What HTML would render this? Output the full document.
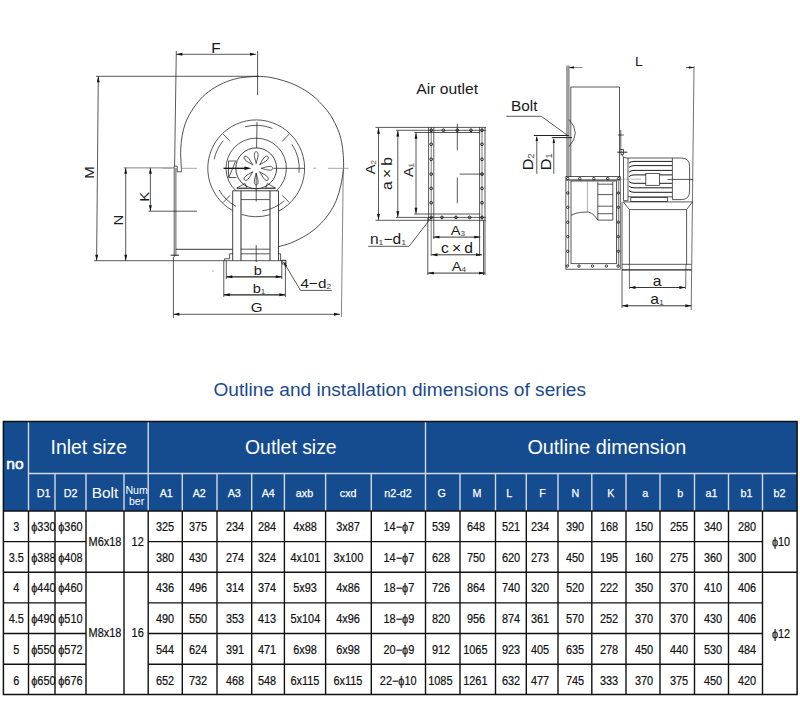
<!DOCTYPE html>
<html lang="en">
<head>
<meta charset="utf-8">
<title>Outline and installation dimensions of series</title>
<style>
html,body{margin:0;padding:0;background:#fff;}
body{width:800px;height:720px;position:relative;overflow:hidden;font-family:"Liberation Sans",sans-serif;}
#draw{position:absolute;left:0;top:0;width:800px;height:360px;}
#draw text{font-family:"Liberation Sans",sans-serif;fill:#1a1a1a;}
#grid{position:absolute;left:0;top:0;width:800px;height:720px;}
h1{position:absolute;left:213.5px;top:378px;margin:0;font-weight:normal;font-size:19.1px;line-height:24px;color:#1b4a8c;white-space:nowrap;transform-origin:0 50%;}
.c{position:absolute;display:flex;align-items:center;justify-content:center;white-space:nowrap;font-size:12px;color:#111;box-sizing:border-box;padding-top:1px;-webkit-text-stroke:0.2px #111;}
.c span{display:inline-block;transform:scaleX(.91);}
.h{color:#fff;font-size:11.8px;padding:2px 0 0 0;-webkit-text-stroke:0.25px #fff;}
.g{color:#fff;font-size:19px;padding:0 0 2px 0;-webkit-text-stroke:0;}
.g span{transform:none;}
</style>
</head>
<body>
<svg id="draw" width="800" height="360" viewBox="0 0 800 360">
<g fill="none" stroke="#222" stroke-width="0.75" stroke-linecap="butt">
<line x1="176.3" y1="51" x2="174.6" y2="166"/>
<line x1="257.6" y1="51" x2="257.6" y2="95.2"/>
<line x1="176.3" y1="54.3" x2="256" y2="54.3"/>
<path d="M176.3 54.3L182.3 52.85L182.3 55.75Z" fill="#111" stroke="none"/>
<path d="M256 54.3L250 55.75L250 52.85Z" fill="#111" stroke="none"/>
<line x1="96" y1="76.3" x2="259" y2="76.3"/>
<line x1="98.3" y1="76.3" x2="96.6" y2="260.7"/>
<path d="M98.3 76.3L99.69 82.31L96.79 82.29Z" fill="#111" stroke="none"/>
<path d="M96.6 260.7L95.21 254.69L98.11 254.71Z" fill="#111" stroke="none"/>
<line x1="94" y1="260.7" x2="286" y2="260.7"/>
<line x1="123.5" y1="167.9" x2="174" y2="167.9" stroke="#555"/>
<line x1="182" y1="168.3" x2="197" y2="168.3" stroke="#888"/>
<line x1="125.7" y1="167.8" x2="125.7" y2="260.7"/>
<path d="M125.7 167.8L127.15 173.8L124.25 173.8Z" fill="#111" stroke="none"/>
<path d="M125.7 260.7L124.25 254.7L127.15 254.7Z" fill="#111" stroke="none"/>
<line x1="150.4" y1="167.8" x2="150.4" y2="211.2"/>
<path d="M150.4 167.8L151.85 173.8L148.95 173.8Z" fill="#111" stroke="none"/>
<path d="M150.4 211.2L148.95 205.2L151.85 205.2Z" fill="#111" stroke="none"/>
<line x1="148.5" y1="211.2" x2="197" y2="211.2"/>
<path d="M174 166.2H177.2V171.8H181.5"/>
<line x1="174.2" y1="166.2" x2="174.2" y2="257"/>
<line x1="175.9" y1="168" x2="175.9" y2="256"/>
<line x1="170.7" y1="255.2" x2="179" y2="255.2" stroke-width="1"/>
<line x1="173.4" y1="257" x2="173.4" y2="318"/>
<line x1="175.9" y1="249.3" x2="232.6" y2="249.3" stroke-width="0.9"/>
<path d="M181.5 171.8C181.48 171.25 181.48 170.2 181.4 168.5C181.32 166.8 181.12 164.78 181 161.6C180.88 158.42 180.5 153.73 180.7 149.4C180.9 145.07 181.43 139.93 182.2 135.6C182.97 131.27 183.77 127.47 185.3 123.4C186.83 119.33 188.87 115.27 191.4 111.2C193.93 107.13 197.2 102.57 200.5 99C203.8 95.43 207.38 92.47 211.2 89.8C215.02 87.13 219.07 84.9 223.4 83C227.73 81.1 232.87 79.42 237.2 78.4C241.53 77.38 245.97 77.23 249.4 76.9C252.83 76.57 254.4 76.33 257.8 76.4C261.2 76.47 265.5 76.58 269.8 77.3C274.1 78.02 279.02 79.25 283.6 80.7C288.18 82.15 292.72 83.72 297.3 86C301.88 88.28 307.02 91.33 311.1 94.4C315.18 97.47 318.5 100.83 321.8 104.4C325.1 107.97 328.23 111.62 330.9 115.8C333.57 119.98 336.02 125.17 337.8 129.5C339.58 133.83 340.68 137.47 341.6 141.8C342.52 146.13 342.97 151.13 343.3 155.5C343.63 159.87 343.62 165.35 343.6 168C343.58 170.65 343.65 168.55 343.2 171.4C342.75 174.25 342.05 180.27 340.9 185.1C339.75 189.93 338.33 195.57 336.3 200.4C334.27 205.23 331.75 209.78 328.7 214.1C325.65 218.42 321.82 222.73 318 226.3C314.18 229.87 310.38 232.7 305.8 235.5C301.22 238.3 295.03 241.25 290.5 243.1C285.97 244.95 280.58 246.02 278.6 246.6" stroke-width="0.8"/>
<line x1="343.3" y1="168" x2="341.4" y2="317" stroke-width="0.65" stroke="#444"/>
<line x1="173.4" y1="314.3" x2="340" y2="314.3"/>
<path d="M173.4 314.3L179.4 312.85L179.4 315.75Z" fill="#111" stroke="none"/>
<path d="M340 314.3L334 315.75L334 312.85Z" fill="#111" stroke="none"/>
<path d="M232.44 210.47A48.4 48.4 0 1 1 279 210.99"/>
<path d="M270.03 214.68A48.4 48.4 0 0 1 241.57 214.43"/>
<path d="M235.95 190.71A30.2 30.2 0 1 1 276.45 190.71"/>
<circle cx="256.2" cy="168.3" r="20.4" stroke-width="0.85"/>
<path d="M245.07 126.77A43 43 0 0 1 272.31 128.43"/>
<path d="M291.85 144.25A43 43 0 0 1 298.96 172.79"/>
<path d="M284.41 200.75A43 43 0 0 1 262.18 210.88"/>
<path d="M236.01 206.27A43 43 0 0 1 218.96 189.8"/>
<path d="M214.14 159.36A43 43 0 0 1 223.26 140.66"/>
<line x1="230.15" y1="141.32" x2="223.2" y2="134.13"/>
<line x1="282.25" y1="141.32" x2="289.2" y2="134.13"/>
<line x1="282.25" y1="195.28" x2="289.2" y2="202.47"/>
<line x1="230.15" y1="195.28" x2="223.2" y2="202.47"/>
<line x1="257" y1="122" x2="256.6" y2="148"/>
<line x1="273.5" y1="168.3" x2="304.5" y2="168.3"/>
<line x1="313.4" y1="168.3" x2="316" y2="168.3" stroke="#888"/>
<line x1="328" y1="168.3" x2="348.5" y2="168.3" stroke="#888"/>
<line x1="163" y1="168.3" x2="172" y2="168.3" stroke="#999"/>
<path d="M4.8 0C8 -0.5 10.5 -2 14 -1.9C17.4 -1.8 17.4 1.8 14 1.9C10.5 2 8 0.5 4.8 0Z" transform="translate(256.2 168.3) rotate(-90)"/>
<path d="M4.8 0C8 -0.5 10.5 -2 14 -1.9C17.4 -1.8 17.4 1.8 14 1.9C10.5 2 8 0.5 4.8 0Z" transform="translate(256.2 168.3) rotate(-45)"/>
<path d="M4.8 0C8 -0.5 10.5 -2 14 -1.9C17.4 -1.8 17.4 1.8 14 1.9C10.5 2 8 0.5 4.8 0Z" transform="translate(256.2 168.3) rotate(0)"/>
<path d="M4.8 0C8 -0.5 10.5 -2 14 -1.9C17.4 -1.8 17.4 1.8 14 1.9C10.5 2 8 0.5 4.8 0Z" transform="translate(256.2 168.3) rotate(45)"/>
<path d="M4.8 0C8 -0.5 10.5 -2 14 -1.9C17.4 -1.8 17.4 1.8 14 1.9C10.5 2 8 0.5 4.8 0Z" transform="translate(256.2 168.3) rotate(90)"/>
<path d="M4.8 0C8 -0.5 10.5 -2 14 -1.9C17.4 -1.8 17.4 1.8 14 1.9C10.5 2 8 0.5 4.8 0Z" transform="translate(256.2 168.3) rotate(135)"/>
<path d="M4.8 0C8 -0.5 10.5 -2 14 -1.9C17.4 -1.8 17.4 1.8 14 1.9C10.5 2 8 0.5 4.8 0Z" transform="translate(256.2 168.3) rotate(225)"/>
<line x1="223.5" y1="168.3" x2="247" y2="168.3" stroke-width="1.3" stroke="#111"/>
<path d="M251.5 168.3L244.5 170.1L244.5 166.5Z" fill="#111" stroke="none"/>
<path d="M236.5 161H228.5V177.5H236.5M229 177L235.5 161.5"/>
<path d="M236.8 188L245 183.5L247 188Z M275.4 188L267.5 183.5L265.5 188Z"/>
<line x1="236.8" y1="188.6" x2="275.6" y2="188.6"/>
<path d="M232.7 260.7V190.8H278.5V260.7" stroke-width="0.85"/>
<line x1="241" y1="190.8" x2="241" y2="260.7" stroke-width="1.15" stroke="#444"/>
<line x1="270" y1="190.8" x2="270" y2="260.7" stroke-width="1.15" stroke="#444"/>
<line x1="241" y1="199.6" x2="269.8" y2="199.6"/>
<line x1="256.2" y1="173" x2="256.2" y2="201.5"/>
<line x1="256.2" y1="245" x2="256.2" y2="262"/>
<line x1="241" y1="249.2" x2="269.8" y2="249.2"/>
<path d="M229.6 253.8V258.8H224.6V260.7M229.6 253.8H232.7 M278.5 253.8H280.6V260.7"/>
<line x1="241" y1="253.8" x2="269.8" y2="253.8"/>
<rect x="282" y="260.2" width="4" height="3.8"/>
<line x1="226.3" y1="260.7" x2="226.3" y2="279"/>
<line x1="223.8" y1="260.7" x2="223.8" y2="297"/>
<line x1="281.8" y1="260.7" x2="281.8" y2="279"/>
<line x1="285.4" y1="262" x2="285.4" y2="297"/>
<line x1="226.3" y1="276.8" x2="281.8" y2="276.8" stroke-width="1.15"/>
<path d="M226.3 276.8L232.3 275.35L232.3 278.25Z" fill="#111" stroke="none"/>
<path d="M281.8 276.8L275.8 278.25L275.8 275.35Z" fill="#111" stroke="none"/>
<line x1="223.8" y1="294.8" x2="285.4" y2="294.8" stroke-width="1.15"/>
<path d="M223.8 294.8L229.8 293.35L229.8 296.25Z" fill="#111" stroke="none"/>
<path d="M285.4 294.8L279.4 296.25L279.4 293.35Z" fill="#111" stroke="none"/>
<circle cx="213" cy="271" r="0.4" stroke-width="0.6" stroke="#777"/>
<path d="M283.6 262L300.5 290.4H331.8"/>
<path d="M283.6 262L287.23 265.64L285.18 266.89Z" fill="#111" stroke="none"/>
</g>
<text font-size="13.8" text-anchor="middle" transform="translate(216 52.5) scale(1.12 1)">F</text>
<text font-size="13.4" text-anchor="middle" transform="translate(94 172.5) rotate(-90) scale(1.12 1)">M</text>
<text font-size="13.4" text-anchor="middle" transform="translate(123.4 220.2) rotate(-90) scale(1.12 1)">N</text>
<text font-size="13.4" text-anchor="middle" transform="translate(148.8 196.8) rotate(-90) scale(1.12 1)">K</text>
<text font-size="13.5" text-anchor="middle" transform="translate(256.6 311.5) scale(1.12 1)">G</text>
<text font-size="13" text-anchor="middle" transform="translate(257.8 275) scale(1.12 1)">b</text>
<text font-size="13" text-anchor="middle" transform="translate(259 292.8) scale(1.12 1)">b<tspan font-size="56%" dy="1" fill="#444">1</tspan></text>
<text font-size="13.6" text-anchor="start" transform="translate(300.6 288.4) scale(1.12 1)">4−d<tspan font-size="56%" dy="1" fill="#444">2</tspan></text>
<g fill="none" stroke="#222" stroke-width="0.75">
<line x1="375.5" y1="127.4" x2="486" y2="127.4"/>
<line x1="396" y1="130.3" x2="486" y2="130.3"/>
<line x1="414.3" y1="132.5" x2="480.3" y2="132.5"/>
<line x1="414.3" y1="214" x2="480.3" y2="214"/>
<line x1="396" y1="217.4" x2="486" y2="217.4"/>
<line x1="375.5" y1="220.3" x2="486" y2="220.3"/>
<line x1="428.6" y1="127.4" x2="428.6" y2="220.3"/>
<line x1="431.2" y1="127.4" x2="431.2" y2="256" stroke-width="0.6"/>
<line x1="433.8" y1="127.4" x2="433.8" y2="239"/>
<line x1="479.6" y1="127.4" x2="479.6" y2="256"/>
<line x1="482" y1="127.4" x2="482" y2="220.3" stroke-width="0.6"/>
<line x1="485" y1="127.4" x2="485" y2="275"/>
<line x1="427.8" y1="218" x2="427.8" y2="275"/>
<line x1="483.5" y1="220.3" x2="483.5" y2="275"/>
<line x1="378.5" y1="127.8" x2="378.5" y2="220"/>
<path d="M378.5 127.8L379.95 133.8L377.05 133.8Z" fill="#111" stroke="none"/>
<path d="M378.5 220L377.05 214L379.95 214Z" fill="#111" stroke="none"/>
<line x1="397.8" y1="130.5" x2="397.8" y2="217.2"/>
<path d="M397.8 130.5L399.25 136.5L396.35 136.5Z" fill="#111" stroke="none"/>
<path d="M397.8 217.2L396.35 211.2L399.25 211.2Z" fill="#111" stroke="none"/>
<line x1="416" y1="132.8" x2="416" y2="213.8"/>
<path d="M416 132.8L417.45 138.8L414.55 138.8Z" fill="#111" stroke="none"/>
<path d="M416 213.8L414.55 207.8L417.45 207.8Z" fill="#111" stroke="none"/>
<line x1="433.4" y1="237.1" x2="480.3" y2="237.1" stroke-width="0.9"/>
<path d="M433.4 237.1L439.4 235.65L439.4 238.55Z" fill="#111" stroke="none"/>
<path d="M480.3 237.1L474.3 238.55L474.3 235.65Z" fill="#111" stroke="none"/>
<line x1="431.5" y1="254.8" x2="482" y2="254.8" stroke-width="0.9"/>
<path d="M431.5 254.8L437.5 253.35L437.5 256.25Z" fill="#111" stroke="none"/>
<path d="M482 254.8L476 256.25L476 253.35Z" fill="#111" stroke="none"/>
<line x1="427.8" y1="273.1" x2="485" y2="273.1" stroke-width="0.9"/>
<path d="M427.8 273.1L433.8 271.65L433.8 274.55Z" fill="#111" stroke="none"/>
<path d="M485 273.1L479 274.55L479 271.65Z" fill="#111" stroke="none"/>
<circle cx="431.2" cy="130.3" r="1.35" stroke-width="1"/>
<circle cx="482" cy="130.3" r="1.35" stroke-width="1"/>
<circle cx="431.2" cy="144.3" r="1.35" stroke-width="1"/>
<circle cx="482" cy="144.3" r="1.35" stroke-width="1"/>
<circle cx="431.2" cy="159.3" r="1.35" stroke-width="1"/>
<circle cx="482" cy="159.3" r="1.35" stroke-width="1"/>
<circle cx="431.2" cy="174.1" r="1.35" stroke-width="1"/>
<circle cx="482" cy="174.1" r="1.35" stroke-width="1"/>
<circle cx="431.2" cy="188.4" r="1.35" stroke-width="1"/>
<circle cx="482" cy="188.4" r="1.35" stroke-width="1"/>
<circle cx="431.2" cy="202.8" r="1.35" stroke-width="1"/>
<circle cx="482" cy="202.8" r="1.35" stroke-width="1"/>
<circle cx="431.2" cy="217.4" r="1.35" stroke-width="1"/>
<circle cx="482" cy="217.4" r="1.35" stroke-width="1"/>
<circle cx="443.4" cy="130.3" r="1.35" stroke-width="1"/>
<circle cx="457.3" cy="130.3" r="1.35" stroke-width="1"/>
<circle cx="471" cy="130.3" r="1.35" stroke-width="1"/>
<circle cx="442" cy="217.4" r="1.35" stroke-width="1"/>
<circle cx="456" cy="217.4" r="1.35" stroke-width="1"/>
<circle cx="469.6" cy="217.4" r="1.35" stroke-width="1"/>
<line x1="457.3" y1="124" x2="457.3" y2="150.3"/>
<line x1="457.3" y1="177.5" x2="457.3" y2="203.2"/>
<line x1="459.7" y1="174.1" x2="484" y2="174.1"/>
<path d="M431.5 217.4L409 246.3H368.2"/>
</g>
<text font-size="13" text-anchor="middle" transform="translate(375 167.2) rotate(-90) scale(1.12 1)">A<tspan font-size="56%" dy="1" fill="#444">2</tspan></text>
<text font-size="14" text-anchor="middle" transform="translate(392 173.5) rotate(-90) scale(1.12 1)">a × b</text>
<text font-size="13" text-anchor="middle" transform="translate(412.5 170) rotate(-90) scale(1.12 1)">A<tspan font-size="56%" dy="1" fill="#444">1</tspan></text>
<text font-size="13" text-anchor="middle" transform="translate(457.8 235) scale(1.12 1)">A<tspan font-size="56%" dy="1" fill="#444">3</tspan></text>
<text font-size="14" text-anchor="middle" transform="translate(457 252.8) scale(1.12 1)">c × d</text>
<text font-size="13" text-anchor="middle" transform="translate(458.8 271.2) scale(1.12 1)">A<tspan font-size="56%" dy="1" fill="#444">4</tspan></text>
<text font-size="14.4" text-anchor="middle" transform="translate(388 244) scale(1.08 1)">n<tspan font-size="56%" dy="1" fill="#444">1</tspan><tspan dy="-1">−d</tspan><tspan font-size="56%" dy="1" fill="#444">1</tspan></text>
<text font-size="14" text-anchor="middle" transform="translate(447.2 94.4) scale(1.12 1)" fill="#2a2a2a">Air outlet</text>
<g fill="none" stroke="#222" stroke-width="0.75">
<line x1="567" y1="65.5" x2="567" y2="176.5" stroke-width="0.85"/>
<line x1="568.9" y1="65.5" x2="568.9" y2="177"/>
<line x1="694" y1="66" x2="691.2" y2="310" stroke-width="0.65"/>
<line x1="568.9" y1="67.5" x2="582.5" y2="67.5" stroke="#666"/>
<line x1="686" y1="67.5" x2="693.8" y2="67.5"/>
<path d="M568.9 67.5L573.9 66.3L573.9 68.7Z" fill="#111" stroke="none"/>
<path d="M693.8 67.5L688.8 68.7L688.8 66.3Z" fill="#111" stroke="none"/>
<path d="M570.8 177V87H619.5V177"/>
<path d="M569 119.5Q581.5 133 569 146.5"/>
<path d="M506.3 116.3H541.3L567 135"/>
<line x1="533.8" y1="135.5" x2="569" y2="135.5" stroke-width="1"/>
<line x1="551.8" y1="137.6" x2="572" y2="137.6" stroke-width="1"/>
<line x1="536.8" y1="173.8" x2="536.8" y2="137"/>
<path d="M536.8 136L538 141L535.6 141Z" fill="#111" stroke="none"/>
<line x1="553.8" y1="173.8" x2="553.8" y2="139"/>
<path d="M553.8 138L555 143L552.6 143Z" fill="#111" stroke="none"/>
<line x1="620.8" y1="130" x2="620.8" y2="150"/>
<line x1="617.8" y1="135" x2="623.8" y2="135"/>
<rect x="621" y="149.6" width="2.5" height="5"/>
<line x1="617.3" y1="152.2" x2="627.4" y2="152.2" stroke-width="1"/>
<path d="M623.5 157V200.7H628V158"/>
<path d="M621.8 154.6Q622.5 158 628 158H681.3Q689.6 158 689.6 166.5V191Q689.6 199.6 681.3 199.6H672.4"/>
<line x1="672.4" y1="158" x2="672.4" y2="199.6"/>
<line x1="628" y1="196.8" x2="672.4" y2="196.8"/>
<path d="M672 161.4H634Q630.5 161.4 629 163.2" stroke-width="0.95" stroke="#111"/>
<path d="M672 165.6H634Q630.5 165.6 629 167.4" stroke-width="0.95" stroke="#111"/>
<path d="M672 170.4H634Q630.5 170.4 629 172.2" stroke-width="0.95" stroke="#111"/>
<path d="M672 174.9H634Q630.5 174.9 629 176.7" stroke-width="0.95" stroke="#111"/>
<path d="M672 183.3H634Q630.5 183.3 629 181.5" stroke-width="0.95" stroke="#111"/>
<path d="M672 187.8H634Q630.5 187.8 629 186" stroke-width="0.95" stroke="#111"/>
<path d="M672 192.3H634Q630.5 192.3 629 190.5" stroke-width="0.95" stroke="#111"/>
<rect x="645.8" y="173.4" width="13.7" height="11.9" fill="#fff"/>
<line x1="667.4" y1="179.4" x2="693.2" y2="179.4"/>
<line x1="621" y1="179.2" x2="641" y2="179.2" stroke-width="0.6" stroke="#888"/>
<rect x="630.8" y="197.4" width="36.6" height="4.2"/>
<path d="M623.3 201.9H692.5L686.6 209.6V264.3 M623.3 201.9L629.4 209.6V264.3"/>
<line x1="629.4" y1="209.6" x2="686.6" y2="209.6"/>
<line x1="622" y1="201.9" x2="622" y2="308"/>
<line x1="622" y1="264.3" x2="691.6" y2="264.3"/>
<line x1="622" y1="269.8" x2="691.6" y2="269.8" stroke-width="1.2"/>
<line x1="629.4" y1="264.3" x2="629.4" y2="289" stroke-width="0.65"/>
<line x1="686" y1="264.3" x2="685.6" y2="289" stroke-width="0.65"/>
<line x1="629.5" y1="287.5" x2="685.4" y2="287.5" stroke-width="0.9"/>
<path d="M629.5 287.5L635.5 286.05L635.5 288.95Z" fill="#111" stroke="none"/>
<path d="M685.4 287.5L679.4 288.95L679.4 286.05Z" fill="#111" stroke="none"/>
<line x1="622" y1="305.8" x2="691.3" y2="305.8" stroke-width="0.9"/>
<path d="M622 305.8L628 304.35L628 307.25Z" fill="#111" stroke="none"/>
<path d="M691.3 305.8L685.3 307.25L685.3 304.35Z" fill="#111" stroke="none"/>
<rect x="565.9" y="176.5" width="54.3" height="92.7"/>
<rect x="571" y="181" width="45.5" height="82.7"/>
<line x1="565.9" y1="180" x2="620.2" y2="180" stroke-width="1.2"/>
<line x1="568.6" y1="181" x2="568.6" y2="266" stroke-width="0.6"/>
<line x1="618.4" y1="181" x2="618.4" y2="266" stroke-width="0.6"/>
<circle cx="567.8" cy="178.6" r="1.2" stroke-width="0.9"/>
<circle cx="579.8" cy="178.6" r="1.2" stroke-width="0.9"/>
<circle cx="593.8" cy="178.6" r="1.2" stroke-width="0.9"/>
<circle cx="607.7" cy="178.6" r="1.2" stroke-width="0.9"/>
<circle cx="618.4" cy="178.6" r="1.2" stroke-width="0.9"/>
<circle cx="567.2" cy="266.1" r="1.2" stroke-width="0.9"/>
<circle cx="579" cy="266.1" r="1.2" stroke-width="0.9"/>
<circle cx="592.5" cy="266.1" r="1.2" stroke-width="0.9"/>
<circle cx="606.4" cy="266.1" r="1.2" stroke-width="0.9"/>
<circle cx="618.1" cy="266.1" r="1.2" stroke-width="0.9"/>
<circle cx="567.8" cy="193" r="1.2" stroke-width="0.9"/>
<circle cx="618.4" cy="193" r="1.2" stroke-width="0.9"/>
<circle cx="567.8" cy="207.3" r="1.2" stroke-width="0.9"/>
<circle cx="618.4" cy="207.3" r="1.2" stroke-width="0.9"/>
<circle cx="567.8" cy="222.2" r="1.2" stroke-width="0.9"/>
<circle cx="618.4" cy="222.2" r="1.2" stroke-width="0.9"/>
<circle cx="567.8" cy="236.6" r="1.2" stroke-width="0.9"/>
<circle cx="618.4" cy="236.6" r="1.2" stroke-width="0.9"/>
<circle cx="567.8" cy="251.3" r="1.2" stroke-width="0.9"/>
<circle cx="618.4" cy="251.3" r="1.2" stroke-width="0.9"/>
<line x1="587.4" y1="181" x2="587.4" y2="212" stroke-width="0.6" stroke="#777"/>
<path d="M571 215.3Q576 212.8 580.6 212.4T588.5 212.1Q592 213 594.1 215.3T597.8 220.1"/>
<path d="M597.8 181.8V220.1H612.8V181.8"/>
<line x1="597.8" y1="184.2" x2="612.8" y2="184.2"/>
<line x1="597.8" y1="194.6" x2="612.8" y2="194.6"/>
<line x1="597.8" y1="206.2" x2="612.8" y2="206.2"/>
<line x1="597.8" y1="213.7" x2="612.8" y2="213.7"/>
</g>
<text font-size="12.5" text-anchor="middle" transform="translate(638.8 65.5) scale(1.12 1)" fill="#333">L</text>
<text font-size="14" text-anchor="start" transform="translate(511 110.8) scale(1.1 1)" fill="#333">Bolt</text>
<text font-size="14.6" text-anchor="middle" transform="translate(533.4 161.8) rotate(-90) scale(1.12 1)">D<tspan font-size="56%" dy="1" fill="#444">2</tspan></text>
<text font-size="14.6" text-anchor="middle" transform="translate(551 161.8) rotate(-90) scale(1.12 1)">D<tspan font-size="56%" dy="1" fill="#444">1</tspan></text>
<text font-size="14" text-anchor="middle" transform="translate(657 286) scale(1.12 1)">a</text>
<text font-size="14" text-anchor="middle" transform="translate(657 304.3) scale(1.12 1)">a<tspan font-size="56%" dy="1" fill="#444">1</tspan></text>
</svg>

<h1>Outline and installation dimensions of series</h1>
<svg id="grid" width="800" height="720" viewBox="0 0 800 720">
<rect x="3.4" y="421.5" width="793.7" height="89.5" fill="#154c90"/>
<line x1="28.5" y1="421.5" x2="28.5" y2="511" stroke="#d4d8e0" stroke-width="1.4"/>
<line x1="148.2" y1="421.5" x2="148.2" y2="511" stroke="#d4d8e0" stroke-width="1.4"/>
<line x1="425.5" y1="421.5" x2="425.5" y2="511" stroke="#d4d8e0" stroke-width="1.4"/>
<line x1="28.5" y1="473.5" x2="797.1" y2="473.5" stroke="#d4d8e0" stroke-width="1.4"/>
<line x1="55" y1="473.5" x2="55" y2="511" stroke="#d4d8e0" stroke-width="1.4"/>
<line x1="86" y1="473.5" x2="86" y2="511" stroke="#d4d8e0" stroke-width="1.4"/>
<line x1="124" y1="473.5" x2="124" y2="511" stroke="#d4d8e0" stroke-width="1.4"/>
<line x1="182.3" y1="473.5" x2="182.3" y2="511" stroke="#d4d8e0" stroke-width="1.4"/>
<line x1="217" y1="473.5" x2="217" y2="511" stroke="#d4d8e0" stroke-width="1.4"/>
<line x1="251.7" y1="473.5" x2="251.7" y2="511" stroke="#d4d8e0" stroke-width="1.4"/>
<line x1="284.4" y1="473.5" x2="284.4" y2="511" stroke="#d4d8e0" stroke-width="1.4"/>
<line x1="325.6" y1="473.5" x2="325.6" y2="511" stroke="#d4d8e0" stroke-width="1.4"/>
<line x1="371.3" y1="473.5" x2="371.3" y2="511" stroke="#d4d8e0" stroke-width="1.4"/>
<line x1="460" y1="473.5" x2="460" y2="511" stroke="#d4d8e0" stroke-width="1.4"/>
<line x1="495.5" y1="473.5" x2="495.5" y2="511" stroke="#d4d8e0" stroke-width="1.4"/>
<line x1="526.3" y1="473.5" x2="526.3" y2="511" stroke="#d4d8e0" stroke-width="1.4"/>
<line x1="558" y1="473.5" x2="558" y2="511" stroke="#d4d8e0" stroke-width="1.4"/>
<line x1="591.8" y1="473.5" x2="591.8" y2="511" stroke="#d4d8e0" stroke-width="1.4"/>
<line x1="626" y1="473.5" x2="626" y2="511" stroke="#d4d8e0" stroke-width="1.4"/>
<line x1="660" y1="473.5" x2="660" y2="511" stroke="#d4d8e0" stroke-width="1.4"/>
<line x1="694.5" y1="473.5" x2="694.5" y2="511" stroke="#d4d8e0" stroke-width="1.4"/>
<line x1="728.5" y1="473.5" x2="728.5" y2="511" stroke="#d4d8e0" stroke-width="1.4"/>
<line x1="762.5" y1="473.5" x2="762.5" y2="511" stroke="#d4d8e0" stroke-width="1.4"/>
<line x1="3.4" y1="541.6" x2="86" y2="541.6" stroke="#111" stroke-width="1.4"/>
<line x1="148.2" y1="541.6" x2="762.5" y2="541.6" stroke="#111" stroke-width="1.4"/>
<line x1="3.4" y1="572.2" x2="797.1" y2="572.2" stroke="#111" stroke-width="1.4"/>
<line x1="3.4" y1="602.9" x2="86" y2="602.9" stroke="#111" stroke-width="1.4"/>
<line x1="148.2" y1="602.9" x2="762.5" y2="602.9" stroke="#111" stroke-width="1.4"/>
<line x1="3.4" y1="633.5" x2="86" y2="633.5" stroke="#111" stroke-width="1.4"/>
<line x1="148.2" y1="633.5" x2="762.5" y2="633.5" stroke="#111" stroke-width="1.4"/>
<line x1="3.4" y1="664.2" x2="86" y2="664.2" stroke="#111" stroke-width="1.4"/>
<line x1="148.2" y1="664.2" x2="762.5" y2="664.2" stroke="#111" stroke-width="1.4"/>
<line x1="28.5" y1="511" x2="28.5" y2="694.5" stroke="#111" stroke-width="1.4"/>
<line x1="55" y1="511" x2="55" y2="694.5" stroke="#111" stroke-width="1.4"/>
<line x1="86" y1="511" x2="86" y2="694.5" stroke="#111" stroke-width="1.4"/>
<line x1="124" y1="511" x2="124" y2="694.5" stroke="#111" stroke-width="1.4"/>
<line x1="148.2" y1="511" x2="148.2" y2="694.5" stroke="#111" stroke-width="1.4"/>
<line x1="182.3" y1="511" x2="182.3" y2="694.5" stroke="#111" stroke-width="1.4"/>
<line x1="217" y1="511" x2="217" y2="694.5" stroke="#111" stroke-width="1.4"/>
<line x1="251.7" y1="511" x2="251.7" y2="694.5" stroke="#111" stroke-width="1.4"/>
<line x1="284.4" y1="511" x2="284.4" y2="694.5" stroke="#111" stroke-width="1.4"/>
<line x1="325.6" y1="511" x2="325.6" y2="694.5" stroke="#111" stroke-width="1.4"/>
<line x1="371.3" y1="511" x2="371.3" y2="694.5" stroke="#111" stroke-width="1.4"/>
<line x1="425.5" y1="511" x2="425.5" y2="694.5" stroke="#111" stroke-width="1.4"/>
<line x1="460" y1="511" x2="460" y2="694.5" stroke="#111" stroke-width="1.4"/>
<line x1="495.5" y1="511" x2="495.5" y2="694.5" stroke="#111" stroke-width="1.4"/>
<line x1="526.3" y1="511" x2="526.3" y2="694.5" stroke="#111" stroke-width="1.4"/>
<line x1="558" y1="511" x2="558" y2="694.5" stroke="#111" stroke-width="1.4"/>
<line x1="591.8" y1="511" x2="591.8" y2="694.5" stroke="#111" stroke-width="1.4"/>
<line x1="626" y1="511" x2="626" y2="694.5" stroke="#111" stroke-width="1.4"/>
<line x1="660" y1="511" x2="660" y2="694.5" stroke="#111" stroke-width="1.4"/>
<line x1="694.5" y1="511" x2="694.5" y2="694.5" stroke="#111" stroke-width="1.4"/>
<line x1="728.5" y1="511" x2="728.5" y2="694.5" stroke="#111" stroke-width="1.4"/>
<line x1="762.5" y1="511" x2="762.5" y2="694.5" stroke="#111" stroke-width="1.4"/>
<line x1="3.4" y1="511" x2="797.1" y2="511" stroke="#111" stroke-width="1.6"/>
<rect x="3.4" y="421.5" width="793.7" height="273" fill="none" stroke="#111" stroke-width="1.5"/>
</svg>
<div class="c g" style="left:3.4px;top:421.5px;width:25.1px;height:89.5px;font-size:15.5px;-webkit-text-stroke:0.55px #fff;padding:0 2px 4px 0;"><span>no</span></div>
<div class="c g" style="left:28.5px;top:421.5px;width:119.7px;height:52px;font-size:19.4px;padding:0 0 1px 1px;"><span>Inlet size</span></div>
<div class="c g" style="left:148.2px;top:421.5px;width:277.3px;height:52px;font-size:19.4px;padding:0 0 1px 8px;"><span>Outlet size</span></div>
<div class="c g" style="left:425.5px;top:421.5px;width:371.6px;height:52px;font-size:19.85px;padding:0 9px 1px 0;"><span>Outline dimension</span></div>
<div class="c h" style="left:30px;top:473.5px;width:26.5px;height:37.5px;"><span>D1</span></div>
<div class="c h" style="left:55.5px;top:473.5px;width:31px;height:37.5px;"><span>D2</span></div>
<div class="c h g" style="left:86px;top:473.5px;width:38px;height:37.5px;font-size:15.5px;padding:1px 0 0 0;"><span>Bolt</span></div>
<div class="c h g" style="left:124px;top:473.5px;width:24.2px;height:37.5px;font-size:10.6px;line-height:11.7px;text-align:center;padding:8px 0 0 1px;"><span>Num<br>ber</span></div>
<div class="c h" style="left:148.7px;top:473.5px;width:34.1px;height:37.5px;"><span>A1</span></div>
<div class="c h" style="left:182.3px;top:473.5px;width:34.7px;height:37.5px;"><span>A2</span></div>
<div class="c h" style="left:217px;top:473.5px;width:34.7px;height:37.5px;"><span>A3</span></div>
<div class="c h" style="left:251.7px;top:473.5px;width:32.7px;height:37.5px;"><span>A4</span></div>
<div class="c h" style="left:284.4px;top:473.5px;width:41.2px;height:37.5px;"><span>axb</span></div>
<div class="c h" style="left:325.6px;top:473.5px;width:45.7px;height:37.5px;"><span>cxd</span></div>
<div class="c h" style="left:371.3px;top:473.5px;width:54.2px;height:37.5px;"><span>n2-d2</span></div>
<div class="c h" style="left:424.3px;top:473.5px;width:34.5px;height:37.5px;"><span>G</span></div>
<div class="c h" style="left:459.2px;top:473.5px;width:35.5px;height:37.5px;"><span>M</span></div>
<div class="c h" style="left:493.5px;top:473.5px;width:30.8px;height:37.5px;"><span>L</span></div>
<div class="c h" style="left:526.3px;top:473.5px;width:31.7px;height:37.5px;"><span>F</span></div>
<div class="c h" style="left:558px;top:473.5px;width:33.8px;height:37.5px;"><span>N</span></div>
<div class="c h" style="left:593.5px;top:473.5px;width:34.2px;height:37.5px;"><span>K</span></div>
<div class="c h" style="left:628.5px;top:473.5px;width:34px;height:37.5px;"><span>a</span></div>
<div class="c h" style="left:662.7px;top:473.5px;width:34.5px;height:37.5px;"><span>b</span></div>
<div class="c h" style="left:694.8px;top:473.5px;width:34px;height:37.5px;"><span>a1</span></div>
<div class="c h" style="left:729.3px;top:473.5px;width:34px;height:37.5px;"><span>b1</span></div>
<div class="c h" style="left:762.5px;top:473.5px;width:34.6px;height:37.5px;"><span>b2</span></div>
<div class="c" style="left:3.4px;top:511px;width:25.1px;height:30.6px;padding-top:1px;"><span>3</span></div>
<div class="c" style="left:29.8px;top:511px;width:26.5px;height:30.6px;padding-top:1px;"><span>ϕ330</span></div>
<div class="c" style="left:55px;top:511px;width:31px;height:30.6px;padding-top:1px;"><span>ϕ360</span></div>
<div class="c" style="left:147.7px;top:511px;width:34.1px;height:30.6px;padding-top:1px;"><span>325</span></div>
<div class="c" style="left:180.8px;top:511px;width:34.7px;height:30.6px;padding-top:1px;"><span>375</span></div>
<div class="c" style="left:217.5px;top:511px;width:34.7px;height:30.6px;padding-top:1px;"><span>234</span></div>
<div class="c" style="left:250.4px;top:511px;width:32.7px;height:30.6px;padding-top:1px;"><span>284</span></div>
<div class="c" style="left:284.4px;top:511px;width:41.2px;height:30.6px;padding-top:1px;"><span>4x88</span></div>
<div class="c" style="left:325.3px;top:511px;width:45.7px;height:30.6px;padding-top:1px;"><span>3x87</span></div>
<div class="c" style="left:371.6px;top:511px;width:54.2px;height:30.6px;padding-top:1px;"><span>14−ϕ7</span></div>
<div class="c" style="left:423.5px;top:511px;width:34.5px;height:30.6px;padding-top:1px;"><span>539</span></div>
<div class="c" style="left:458px;top:511px;width:35.5px;height:30.6px;padding-top:1px;"><span>648</span></div>
<div class="c" style="left:495.5px;top:511px;width:30.8px;height:30.6px;padding-top:1px;"><span>521</span></div>
<div class="c" style="left:524.6px;top:511px;width:31.7px;height:30.6px;padding-top:1px;"><span>234</span></div>
<div class="c" style="left:558px;top:511px;width:33.8px;height:30.6px;padding-top:1px;"><span>390</span></div>
<div class="c" style="left:592.3px;top:511px;width:34.2px;height:30.6px;padding-top:1px;"><span>168</span></div>
<div class="c" style="left:626.8px;top:511px;width:34px;height:30.6px;padding-top:1px;"><span>150</span></div>
<div class="c" style="left:661.9px;top:511px;width:34.5px;height:30.6px;padding-top:1px;"><span>255</span></div>
<div class="c" style="left:696.4px;top:511px;width:34px;height:30.6px;padding-top:1px;"><span>340</span></div>
<div class="c" style="left:729.9px;top:511px;width:34px;height:30.6px;padding-top:1px;"><span>280</span></div>
<div class="c" style="left:3.4px;top:541.6px;width:25.1px;height:30.6px;padding-top:1.3px;"><span>3.5</span></div>
<div class="c" style="left:29.8px;top:541.6px;width:26.5px;height:30.6px;padding-top:1.3px;"><span>ϕ388</span></div>
<div class="c" style="left:55px;top:541.6px;width:31px;height:30.6px;padding-top:1.3px;"><span>ϕ408</span></div>
<div class="c" style="left:147.7px;top:541.6px;width:34.1px;height:30.6px;padding-top:1.3px;"><span>380</span></div>
<div class="c" style="left:180.8px;top:541.6px;width:34.7px;height:30.6px;padding-top:1.3px;"><span>430</span></div>
<div class="c" style="left:217.5px;top:541.6px;width:34.7px;height:30.6px;padding-top:1.3px;"><span>274</span></div>
<div class="c" style="left:250.4px;top:541.6px;width:32.7px;height:30.6px;padding-top:1.3px;"><span>324</span></div>
<div class="c" style="left:284.4px;top:541.6px;width:41.2px;height:30.6px;padding-top:1.3px;"><span>4x101</span></div>
<div class="c" style="left:325.3px;top:541.6px;width:45.7px;height:30.6px;padding-top:1.3px;"><span>3x100</span></div>
<div class="c" style="left:371.6px;top:541.6px;width:54.2px;height:30.6px;padding-top:1.3px;"><span>14−ϕ7</span></div>
<div class="c" style="left:423.5px;top:541.6px;width:34.5px;height:30.6px;padding-top:1.3px;"><span>628</span></div>
<div class="c" style="left:458px;top:541.6px;width:35.5px;height:30.6px;padding-top:1.3px;"><span>750</span></div>
<div class="c" style="left:495.5px;top:541.6px;width:30.8px;height:30.6px;padding-top:1.3px;"><span>620</span></div>
<div class="c" style="left:524.6px;top:541.6px;width:31.7px;height:30.6px;padding-top:1.3px;"><span>273</span></div>
<div class="c" style="left:558px;top:541.6px;width:33.8px;height:30.6px;padding-top:1.3px;"><span>450</span></div>
<div class="c" style="left:592.3px;top:541.6px;width:34.2px;height:30.6px;padding-top:1.3px;"><span>195</span></div>
<div class="c" style="left:626.8px;top:541.6px;width:34px;height:30.6px;padding-top:1.3px;"><span>160</span></div>
<div class="c" style="left:661.9px;top:541.6px;width:34.5px;height:30.6px;padding-top:1.3px;"><span>275</span></div>
<div class="c" style="left:696.4px;top:541.6px;width:34px;height:30.6px;padding-top:1.3px;"><span>360</span></div>
<div class="c" style="left:729.9px;top:541.6px;width:34px;height:30.6px;padding-top:1.3px;"><span>300</span></div>
<div class="c" style="left:3.4px;top:572.2px;width:25.1px;height:30.7px;padding-top:1.6px;"><span>4</span></div>
<div class="c" style="left:29.8px;top:572.2px;width:26.5px;height:30.7px;padding-top:1.6px;"><span>ϕ440</span></div>
<div class="c" style="left:55px;top:572.2px;width:31px;height:30.7px;padding-top:1.6px;"><span>ϕ460</span></div>
<div class="c" style="left:147.7px;top:572.2px;width:34.1px;height:30.7px;padding-top:1.6px;"><span>436</span></div>
<div class="c" style="left:180.8px;top:572.2px;width:34.7px;height:30.7px;padding-top:1.6px;"><span>496</span></div>
<div class="c" style="left:217.5px;top:572.2px;width:34.7px;height:30.7px;padding-top:1.6px;"><span>314</span></div>
<div class="c" style="left:250.4px;top:572.2px;width:32.7px;height:30.7px;padding-top:1.6px;"><span>374</span></div>
<div class="c" style="left:284.4px;top:572.2px;width:41.2px;height:30.7px;padding-top:1.6px;"><span>5x93</span></div>
<div class="c" style="left:325.3px;top:572.2px;width:45.7px;height:30.7px;padding-top:1.6px;"><span>4x86</span></div>
<div class="c" style="left:371.6px;top:572.2px;width:54.2px;height:30.7px;padding-top:1.6px;"><span>18−ϕ7</span></div>
<div class="c" style="left:423.5px;top:572.2px;width:34.5px;height:30.7px;padding-top:1.6px;"><span>726</span></div>
<div class="c" style="left:458px;top:572.2px;width:35.5px;height:30.7px;padding-top:1.6px;"><span>864</span></div>
<div class="c" style="left:495.5px;top:572.2px;width:30.8px;height:30.7px;padding-top:1.6px;"><span>740</span></div>
<div class="c" style="left:524.6px;top:572.2px;width:31.7px;height:30.7px;padding-top:1.6px;"><span>320</span></div>
<div class="c" style="left:558px;top:572.2px;width:33.8px;height:30.7px;padding-top:1.6px;"><span>520</span></div>
<div class="c" style="left:592.3px;top:572.2px;width:34.2px;height:30.7px;padding-top:1.6px;"><span>222</span></div>
<div class="c" style="left:626.8px;top:572.2px;width:34px;height:30.7px;padding-top:1.6px;"><span>350</span></div>
<div class="c" style="left:661.9px;top:572.2px;width:34.5px;height:30.7px;padding-top:1.6px;"><span>370</span></div>
<div class="c" style="left:696.4px;top:572.2px;width:34px;height:30.7px;padding-top:1.6px;"><span>410</span></div>
<div class="c" style="left:729.9px;top:572.2px;width:34px;height:30.7px;padding-top:1.6px;"><span>406</span></div>
<div class="c" style="left:3.4px;top:602.9px;width:25.1px;height:30.6px;padding-top:1.9px;"><span>4.5</span></div>
<div class="c" style="left:29.8px;top:602.9px;width:26.5px;height:30.6px;padding-top:1.9px;"><span>ϕ490</span></div>
<div class="c" style="left:55px;top:602.9px;width:31px;height:30.6px;padding-top:1.9px;"><span>ϕ510</span></div>
<div class="c" style="left:147.7px;top:602.9px;width:34.1px;height:30.6px;padding-top:1.9px;"><span>490</span></div>
<div class="c" style="left:180.8px;top:602.9px;width:34.7px;height:30.6px;padding-top:1.9px;"><span>550</span></div>
<div class="c" style="left:217.5px;top:602.9px;width:34.7px;height:30.6px;padding-top:1.9px;"><span>353</span></div>
<div class="c" style="left:250.4px;top:602.9px;width:32.7px;height:30.6px;padding-top:1.9px;"><span>413</span></div>
<div class="c" style="left:284.4px;top:602.9px;width:41.2px;height:30.6px;padding-top:1.9px;"><span>5x104</span></div>
<div class="c" style="left:325.3px;top:602.9px;width:45.7px;height:30.6px;padding-top:1.9px;"><span>4x96</span></div>
<div class="c" style="left:371.6px;top:602.9px;width:54.2px;height:30.6px;padding-top:1.9px;"><span>18−ϕ9</span></div>
<div class="c" style="left:423.5px;top:602.9px;width:34.5px;height:30.6px;padding-top:1.9px;"><span>820</span></div>
<div class="c" style="left:458px;top:602.9px;width:35.5px;height:30.6px;padding-top:1.9px;"><span>956</span></div>
<div class="c" style="left:495.5px;top:602.9px;width:30.8px;height:30.6px;padding-top:1.9px;"><span>874</span></div>
<div class="c" style="left:524.6px;top:602.9px;width:31.7px;height:30.6px;padding-top:1.9px;"><span>361</span></div>
<div class="c" style="left:558px;top:602.9px;width:33.8px;height:30.6px;padding-top:1.9px;"><span>570</span></div>
<div class="c" style="left:592.3px;top:602.9px;width:34.2px;height:30.6px;padding-top:1.9px;"><span>252</span></div>
<div class="c" style="left:626.8px;top:602.9px;width:34px;height:30.6px;padding-top:1.9px;"><span>370</span></div>
<div class="c" style="left:661.9px;top:602.9px;width:34.5px;height:30.6px;padding-top:1.9px;"><span>370</span></div>
<div class="c" style="left:696.4px;top:602.9px;width:34px;height:30.6px;padding-top:1.9px;"><span>430</span></div>
<div class="c" style="left:729.9px;top:602.9px;width:34px;height:30.6px;padding-top:1.9px;"><span>406</span></div>
<div class="c" style="left:3.4px;top:633.5px;width:25.1px;height:30.7px;padding-top:2.2px;"><span>5</span></div>
<div class="c" style="left:29.8px;top:633.5px;width:26.5px;height:30.7px;padding-top:2.2px;"><span>ϕ550</span></div>
<div class="c" style="left:55px;top:633.5px;width:31px;height:30.7px;padding-top:2.2px;"><span>ϕ572</span></div>
<div class="c" style="left:147.7px;top:633.5px;width:34.1px;height:30.7px;padding-top:2.2px;"><span>544</span></div>
<div class="c" style="left:180.8px;top:633.5px;width:34.7px;height:30.7px;padding-top:2.2px;"><span>624</span></div>
<div class="c" style="left:217.5px;top:633.5px;width:34.7px;height:30.7px;padding-top:2.2px;"><span>391</span></div>
<div class="c" style="left:250.4px;top:633.5px;width:32.7px;height:30.7px;padding-top:2.2px;"><span>471</span></div>
<div class="c" style="left:284.4px;top:633.5px;width:41.2px;height:30.7px;padding-top:2.2px;"><span>6x98</span></div>
<div class="c" style="left:325.3px;top:633.5px;width:45.7px;height:30.7px;padding-top:2.2px;"><span>6x98</span></div>
<div class="c" style="left:371.6px;top:633.5px;width:54.2px;height:30.7px;padding-top:2.2px;"><span>20−ϕ9</span></div>
<div class="c" style="left:423.5px;top:633.5px;width:34.5px;height:30.7px;padding-top:2.2px;"><span>912</span></div>
<div class="c" style="left:458px;top:633.5px;width:35.5px;height:30.7px;padding-top:2.2px;"><span>1065</span></div>
<div class="c" style="left:495.5px;top:633.5px;width:30.8px;height:30.7px;padding-top:2.2px;"><span>923</span></div>
<div class="c" style="left:524.6px;top:633.5px;width:31.7px;height:30.7px;padding-top:2.2px;"><span>405</span></div>
<div class="c" style="left:558px;top:633.5px;width:33.8px;height:30.7px;padding-top:2.2px;"><span>635</span></div>
<div class="c" style="left:592.3px;top:633.5px;width:34.2px;height:30.7px;padding-top:2.2px;"><span>278</span></div>
<div class="c" style="left:626.8px;top:633.5px;width:34px;height:30.7px;padding-top:2.2px;"><span>450</span></div>
<div class="c" style="left:661.9px;top:633.5px;width:34.5px;height:30.7px;padding-top:2.2px;"><span>440</span></div>
<div class="c" style="left:696.4px;top:633.5px;width:34px;height:30.7px;padding-top:2.2px;"><span>530</span></div>
<div class="c" style="left:729.9px;top:633.5px;width:34px;height:30.7px;padding-top:2.2px;"><span>484</span></div>
<div class="c" style="left:3.4px;top:664.2px;width:25.1px;height:30.3px;padding-top:2.5px;"><span>6</span></div>
<div class="c" style="left:29.8px;top:664.2px;width:26.5px;height:30.3px;padding-top:2.5px;"><span>ϕ650</span></div>
<div class="c" style="left:55px;top:664.2px;width:31px;height:30.3px;padding-top:2.5px;"><span>ϕ676</span></div>
<div class="c" style="left:147.7px;top:664.2px;width:34.1px;height:30.3px;padding-top:2.5px;"><span>652</span></div>
<div class="c" style="left:180.8px;top:664.2px;width:34.7px;height:30.3px;padding-top:2.5px;"><span>732</span></div>
<div class="c" style="left:217.5px;top:664.2px;width:34.7px;height:30.3px;padding-top:2.5px;"><span>468</span></div>
<div class="c" style="left:250.4px;top:664.2px;width:32.7px;height:30.3px;padding-top:2.5px;"><span>548</span></div>
<div class="c" style="left:284.4px;top:664.2px;width:41.2px;height:30.3px;padding-top:2.5px;"><span>6x115</span></div>
<div class="c" style="left:325.3px;top:664.2px;width:45.7px;height:30.3px;padding-top:2.5px;"><span>6x115</span></div>
<div class="c" style="left:371.6px;top:664.2px;width:54.2px;height:30.3px;padding-top:2.5px;"><span>22−ϕ10</span></div>
<div class="c" style="left:423.5px;top:664.2px;width:34.5px;height:30.3px;padding-top:2.5px;"><span>1085</span></div>
<div class="c" style="left:458px;top:664.2px;width:35.5px;height:30.3px;padding-top:2.5px;"><span>1261</span></div>
<div class="c" style="left:495.5px;top:664.2px;width:30.8px;height:30.3px;padding-top:2.5px;"><span>632</span></div>
<div class="c" style="left:524.6px;top:664.2px;width:31.7px;height:30.3px;padding-top:2.5px;"><span>477</span></div>
<div class="c" style="left:558px;top:664.2px;width:33.8px;height:30.3px;padding-top:2.5px;"><span>745</span></div>
<div class="c" style="left:592.3px;top:664.2px;width:34.2px;height:30.3px;padding-top:2.5px;"><span>333</span></div>
<div class="c" style="left:626.8px;top:664.2px;width:34px;height:30.3px;padding-top:2.5px;"><span>370</span></div>
<div class="c" style="left:661.9px;top:664.2px;width:34.5px;height:30.3px;padding-top:2.5px;"><span>375</span></div>
<div class="c" style="left:696.4px;top:664.2px;width:34px;height:30.3px;padding-top:2.5px;"><span>450</span></div>
<div class="c" style="left:729.9px;top:664.2px;width:34px;height:30.3px;padding-top:2.5px;"><span>420</span></div>
<div class="c" style="left:86px;top:511px;width:38px;height:61.2px;padding:0 0 0 1px;"><span>M6x18</span></div>
<div class="c" style="left:124px;top:511px;width:24.2px;height:61.2px;padding:0 0 0 3px;"><span>12</span></div>
<div class="c" style="left:86px;top:572.2px;width:38px;height:122.3px;padding:0 0 0 1px;"><span>M8x18</span></div>
<div class="c" style="left:124px;top:572.2px;width:24.2px;height:122.3px;padding:0 0 0 3px;"><span>16</span></div>
<div class="c" style="left:763.7px;top:511px;width:34.6px;height:61.2px;"><span>ϕ10</span></div>
<div class="c" style="left:763.7px;top:572.2px;width:34.6px;height:122.3px;"><span>ϕ12</span></div>
</body>
</html>
